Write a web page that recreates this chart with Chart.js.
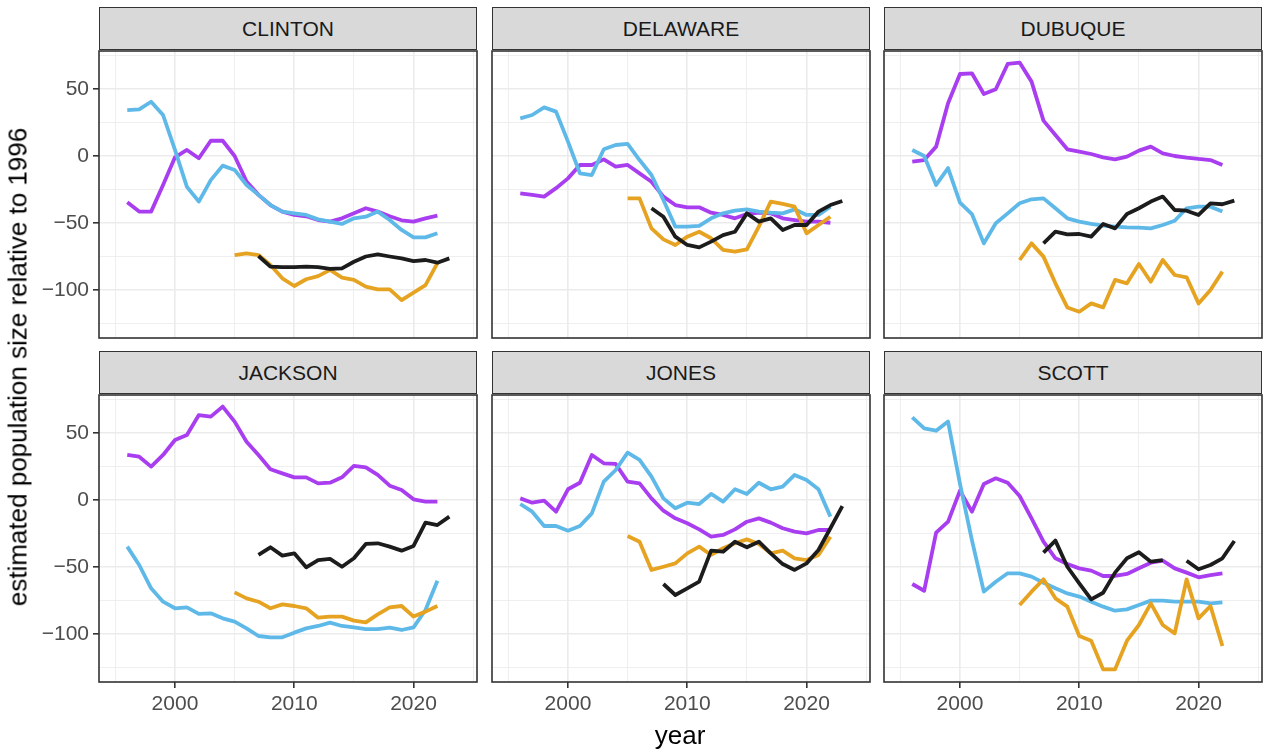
<!DOCTYPE html>
<html>
<head>
<meta charset="utf-8">
<script src="https://cdn.jsdelivr.net/npm/chart.js@4/dist/chart.umd.min.js"></script>
<style>
  html, body { margin: 0; padding: 0; background: #ffffff; }
  #page { position: relative; width: 1266px; height: 751px; overflow: hidden; background: #ffffff;
          font-family: "Liberation Sans", Arial, sans-serif; }
  canvas { position: absolute; }
  .strip { position: absolute; box-sizing: border-box; border: 1.5px solid #333333; background: #D9D9D9;
           color: #1A1A1A; font-size: 21px; display: flex; align-items: center; justify-content: center; }
  .axis-title { position: absolute; color: #000000; font-size: 26px; white-space: nowrap; }
</style>
</head>
<body>
<div id="page"></div>
<script>
// Years on the horizontal axis (one entry per data column below)
const years = [1996, 1997, 1998, 1999, 2000, 2001, 2002, 2003, 2004, 2005, 2006, 2007, 2008, 2009,
               2010, 2011, 2012, 2013, 2014, 2015, 2016, 2017, 2018, 2019, 2020, 2021, 2022, 2023];

const counties = ["CLINTON", "DELAWARE", "DUBUQUE", "JACKSON", "JONES", "SCOTT"];

// Estimated population size relative to 1996, one array per county and series
const clintonPurple = [-34.6, -41.5, -41.5, -21.6, -1, 4.5, -1.7, 11.4, 11.4, 0, -19, -29, -36.6, -41.5,
  -44, -45, -47.8, -49, -46.5, -42.8, -39, -41.5, -45, -48, -49, -46.5, -44.5, null];
const clintonBlue = [34.3, 34.8, 40.5, 30.6, 4.5, -23, -34, -18, -7.2, -10.4, -21.6, -29, -36.6, -41.5,
  -42.8, -44, -47.3, -49, -50.7, -46.5, -45.3, -41.5, -47.8, -55.2, -60.7, -60.7, -57.7, null];
const clintonOrange = [null, null, null, null, null, null, null, null, null, -73.9, -72.6, -73.9, -81.3, -91.3,
  -97, -92, -89.6, -85, -90.8, -92.5, -97.5, -99.5, -99.5, -107.5, -102, -96.3, -80, null];
const clintonBlack = [null, null, null, null, null, null, null, null, null, null, null, -74.6, -82.6, -83,
  -83, -82.6, -83, -84.3, -83.8, -78.9, -75, -73.4, -75, -76.4, -78.4, -77.6, -79.6, -76.4];

const delawarePurple = [-27.9, -29, -30.3, -24, -16.7, -6.7, -6.7, -2.5, -8, -6.7, -13, -19.2, -30.3, -36.6,
  -38.3, -38.3, -42.3, -44, -46.5, -43.3, -42.3, -42.8, -46.5, -47.8, -49, -49, -49.8, null];
const delawareBlue = [28.1, 30.6, 36.3, 33.1, 10.7, -13, -14.2, 5, 8.2, 9, -3, -14.2, -32.8, -52.7,
  -52.7, -52.2, -46.5, -42.8, -40.8, -39.8, -41.5, -42.3, -42.8, -39.8, -44, -44, -37.8, null];
const delawareOrange = [null, null, null, null, null, null, null, null, null, -31.6, -31.6, -54, -62.2, -66.4,
  -60.2, -56.5, -61.4, -70.1, -71.4, -69.7, -52.7, -34, -35.8, -37.8, -57.7, -51.5, -45.3, null];
const delawareBlack = [null, null, null, null, null, null, null, null, null, null, null, -39, -45.3, -60.2,
  -66.4, -68.2, -63.9, -59, -56.5, -42.8, -49, -46.5, -55.2, -51.5, -51.5, -41.5, -36.6, -33.6];

const dubuquePurple = [-4.2, -3, 7, 39.3, 61.2, 61.7, 46.3, 49.8, 68.7, 69.7, 55.5, 26.4, 15.7, 5,
  3.2, 1.5, -1, -2.5, -0.5, 4, 7, 2, 0, -1.2, -2.2, -3, -6.7, null];
const dubuqueBlue = [4.5, 0, -21.6, -9, -34.8, -43.3, -65.2, -50.2, -42.8, -35.3, -32.3, -31.6, -39, -46.5,
  -49, -50.7, -52, -52.7, -53.2, -53.5, -54, -51.5, -48.3, -39, -37.8, -37.8, -41.5, null];
const dubuqueOrange = [null, null, null, null, null, null, null, null, null, -77.6, -65.2, -75.1, -95, -113,
  -116.2, -110, -113, -92.5, -95, -80.6, -93.8, -77.6, -88.8, -90.5, -110, -100, -86.3, null];
const dubuqueBlack = [null, null, null, null, null, null, null, null, null, null, null, -65.2, -56.5, -58.5,
  -58.2, -60.2, -50.7, -54, -43.3, -39, -34, -30.3, -40.3, -40.8, -44, -35.3, -36, -33.3];

const jacksonPurple = [33.6, 32.3, 24.9, 33.6, 44.8, 48.5, 63.4, 62.2, 69.7, 58.5, 43.5, 33.6, 22.9, 19.9,
  16.9, 16.9, 12.4, 12.9, 16.9, 25.4, 24.4, 18.7, 10.7, 7.5, 0.5, -1.2, -1.2, null];
const jacksonBlue = [-34.8, -48.5, -65.9, -75.9, -80.8, -80.1, -85, -84.6, -88.3, -90.8, -95.8, -101.5, -102.5, -102.5,
  -99, -95.8, -94, -91.5, -94, -95, -96.3, -96.3, -95.3, -97, -95, -82.1, -60.2, null];
const jacksonOrange = [null, null, null, null, null, null, null, null, null, -68.9, -73.4, -75.9, -80.8, -77.9,
  -79.1, -80.8, -87.8, -87, -87, -90, -91.3, -85.3, -80.1, -79.1, -87, -83.3, -79.1, null];
const jacksonBlack = [null, null, null, null, null, null, null, null, null, null, null, -41, -35.3, -41.5,
  -39.8, -50.2, -44.8, -44, -49.8, -43.5, -32.8, -32.3, -34.8, -37.8, -34.3, -16.9, -18.7, -12.4];

const jonesPurple = [1.2, -2, -0.5, -8.7, 8, 12.9, 33.6, 27.4, 26.9, 13.7, 12.4, 1.2, -8, -13.7,
  -17.4, -21.9, -27.4, -26.1, -21.9, -16.2, -13.7, -16.9, -21.1, -23.6, -24.9, -22.4, -22.4, null];
const jonesBlue = [-3, -8.7, -19.4, -19.4, -22.9, -19.4, -10, 13.7, 22.4, 35.3, 29.9, 17.4, 1.2, -6.2,
  -2, -3, 4.5, -1.2, 8, 4.5, 12.9, 8, 10, 18.7, 14.9, 8, -12.4, null];
const jonesOrange = [null, null, null, null, null, null, null, null, null, -26.9, -31.1, -52.2, -49.8, -47.3,
  -39.8, -34.8, -41, -36, -32.3, -29.4, -32.8, -39.8, -37.8, -43.5, -44.8, -41, -27.4, null];
const jonesBlack = [null, null, null, null, null, null, null, null, null, null, null, null, -62.7, -70.9,
  -65.9, -60.9, -37.8, -38.6, -31.1, -35.3, -31.1, -39.8, -47.8, -52.2, -47.3, -37.3, -21.1, -4.5];

const scottPurple = [-62.7, -67.7, -24.4, -16.2, 7, -8.7, 11.9, 16.2, 12.9, 3, -13.7, -31.1, -43.5, -47.8,
  -51, -52.7, -56.7, -56.7, -55.2, -51, -46.8, -45.3, -51, -54.2, -57.7, -56, -54.7, null];
const scottBlue = [61.7, 53.5, 51.7, 58.5, 12, -30, -68.4, -61, -54.7, -54.7, -57.2, -61.7, -65.9, -69.7,
  -72.1, -75.9, -79.6, -82.6, -81.6, -78.4, -75.1, -75.1, -75.9, -75.9, -75.9, -77.1, -76.4, null];
const scottOrange = [null, null, null, null, null, null, null, null, null, -78.4, -68.4, -59.2, -73.4, -79.6,
  -101.5, -105, -126.4, -126.4, -105, -93.3, -77.1, -93.3, -99.5, -59.2, -88.3, -79.1, -109, null];
const scottBlack = [null, null, null, null, null, null, null, null, null, null, null, -39.3, -30.3, -49.8,
  -62.2, -74.1, -69.2, -54.2, -43.5, -39, -46, -44.8, null, -45.3, -51.7, -48.5, -43.5, -30.6];

const panelSeries = [
  [clintonPurple, clintonBlue, clintonOrange, clintonBlack],
  [delawarePurple, delawareBlue, delawareOrange, delawareBlack],
  [dubuquePurple, dubuqueBlue, dubuqueOrange, dubuqueBlack],
  [jacksonPurple, jacksonBlue, jacksonOrange, jacksonBlack],
  [jonesPurple, jonesBlue, jonesOrange, jonesBlack],
  [scottPurple, scottBlue, scottOrange, scottBlack]
];

// Axis breaks: labelled every 10 years / 50 units, light lines halfway between
const xBreaks = [1995, 2000, 2005, 2010, 2015, 2020, 2025];
const yBreaks = [-125, -100, -75, -50, -25, 0, 25, 50, 75];

// Styling
const seriesColors = ["#A93DF0", "#5FB9E8", "#E6A321", "#1C1C1C"];
const FONT = '"Liberation Sans", Arial, sans-serif';
const GRID = "#EBEBEB";
const FRAME = "#333333";

// Facet layout (pixels)
const colLeft = [99, 492, 884];
const rowTop = [51, 395];
const PLOT_W = 378, PLOT_H = 287;
const X_MIN = 1993.63, X_MAX = 2025.32;
const Y_MIN = -135.82, Y_MAX = 78.36;

const page = document.getElementById("page");

const framePlugin = {
  id: "panelFrame",
  afterDraw(chart) {
    const a = chart.chartArea, ctx = chart.ctx;
    ctx.save();
    ctx.strokeStyle = FRAME;
    ctx.lineWidth = 1.6;
    ctx.strokeRect(a.left, a.top, a.right - a.left, a.bottom - a.top);
    ctx.restore();
  }
};

function fmtY(v) {
  if (v % 50 !== 0) return "";
  return v < 0 ? "\u2212" + Math.abs(v) : String(v);
}

// keep every panel's plotting area the same size regardless of its labels
function fixBox(s, size, vertical) {
  if (vertical) s.width = size; else s.height = size;
  s.paddingTop = 0; s.paddingBottom = 0; s.paddingLeft = 0; s.paddingRight = 0;
}

counties.forEach((name, i) => {
  const col = i % 3, row = Math.floor(i / 3);
  const showY = col === 0, showX = row === 1;
  const ML = showY ? 80 : 2, MB = showX ? 45 : 2, PAD = 2;

  // strip label above the panel
  const strip = document.createElement("div");
  strip.className = "strip";
  strip.style.left = colLeft[col] + "px";
  strip.style.top = (rowTop[row] - 44) + "px";
  strip.style.width = PLOT_W + "px";
  strip.style.height = "43px";
  strip.textContent = name;
  page.appendChild(strip);

  const cv = document.createElement("canvas");
  const w = PLOT_W + ML + PAD, h = PLOT_H + MB + PAD;
  cv.width = w; cv.height = h;
  cv.style.width = w + "px"; cv.style.height = h + "px";
  cv.style.left = (colLeft[col] - ML) + "px";
  cv.style.top = (rowTop[row] - PAD) + "px";
  page.appendChild(cv);

  const datasets = panelSeries[i].map((vals, k) => ({
    data: years.map((yr, j) => ({ x: yr, y: vals[j] })),
    borderColor: seriesColors[k],
    backgroundColor: seriesColors[k],
    borderWidth: 3.8,
    borderJoinStyle: "round",
    borderCapStyle: "butt",
    pointRadius: 0,
    tension: 0,
    spanGaps: false,
    order: 4 - k
  }));

  new Chart(cv, {
    type: "line",
    data: { datasets },
    options: {
      responsive: false,
      animation: false,
      events: [],
      layout: { padding: { left: 0, top: PAD, right: PAD, bottom: 0 } },
      plugins: { legend: { display: false }, tooltip: { enabled: false } },
      scales: {
        x: {
          type: "linear",
          min: X_MIN, max: X_MAX,
          afterBuildTicks: s => { s.ticks = xBreaks.map(v => ({ value: v })); },
          afterFit: s => fixBox(s, MB, false),
          border: { display: false },
          grid: {
            color: GRID,
            lineWidth: c => (c.tick && c.tick.value % 10 === 0) ? 1.6 : 0.8,
            drawTicks: showX,
            tickLength: 6,
            tickWidth: 1.6,
            tickColor: c => (c.tick && c.tick.value % 10 === 0) ? FRAME : "rgba(0,0,0,0)"
          },
          ticks: {
            display: showX,
            autoSkip: false,
            maxRotation: 0,
            padding: 4,
            color: "#4D4D4D",
            font: { family: FONT, size: 21 },
            callback: v => (v % 10 === 0 ? String(v) : "")
          }
        },
        y: {
          type: "linear",
          min: Y_MIN, max: Y_MAX,
          afterBuildTicks: s => { s.ticks = yBreaks.map(v => ({ value: v })); },
          afterFit: s => fixBox(s, ML, true),
          border: { display: false },
          grid: {
            color: GRID,
            lineWidth: c => (c.tick && c.tick.value % 50 === 0) ? 1.6 : 0.8,
            drawTicks: showY,
            tickLength: 6,
            tickWidth: 1.6,
            tickColor: c => (c.tick && c.tick.value % 50 === 0) ? FRAME : "rgba(0,0,0,0)"
          },
          ticks: {
            display: showY,
            autoSkip: false,
            padding: 4,
            color: "#4D4D4D",
            font: { family: FONT, size: 21 },
            callback: v => fmtY(v)
          }
        }
      }
    },
    plugins: [framePlugin]
  });
});

// shared axis titles
const xt = document.createElement("div");
xt.className = "axis-title";
xt.textContent = "year";
xt.style.left = "680px";
xt.style.top = "735px";
xt.style.transform = "translate(-50%, -50%)";
page.appendChild(xt);

const yt = document.createElement("div");
yt.className = "axis-title";
yt.textContent = "estimated population size relative to 1996";
yt.style.left = "18px";
yt.style.top = "367px";
yt.style.transform = "translate(-50%, -50%) rotate(-90deg)";
page.appendChild(yt);
</script>
</body>
</html>
